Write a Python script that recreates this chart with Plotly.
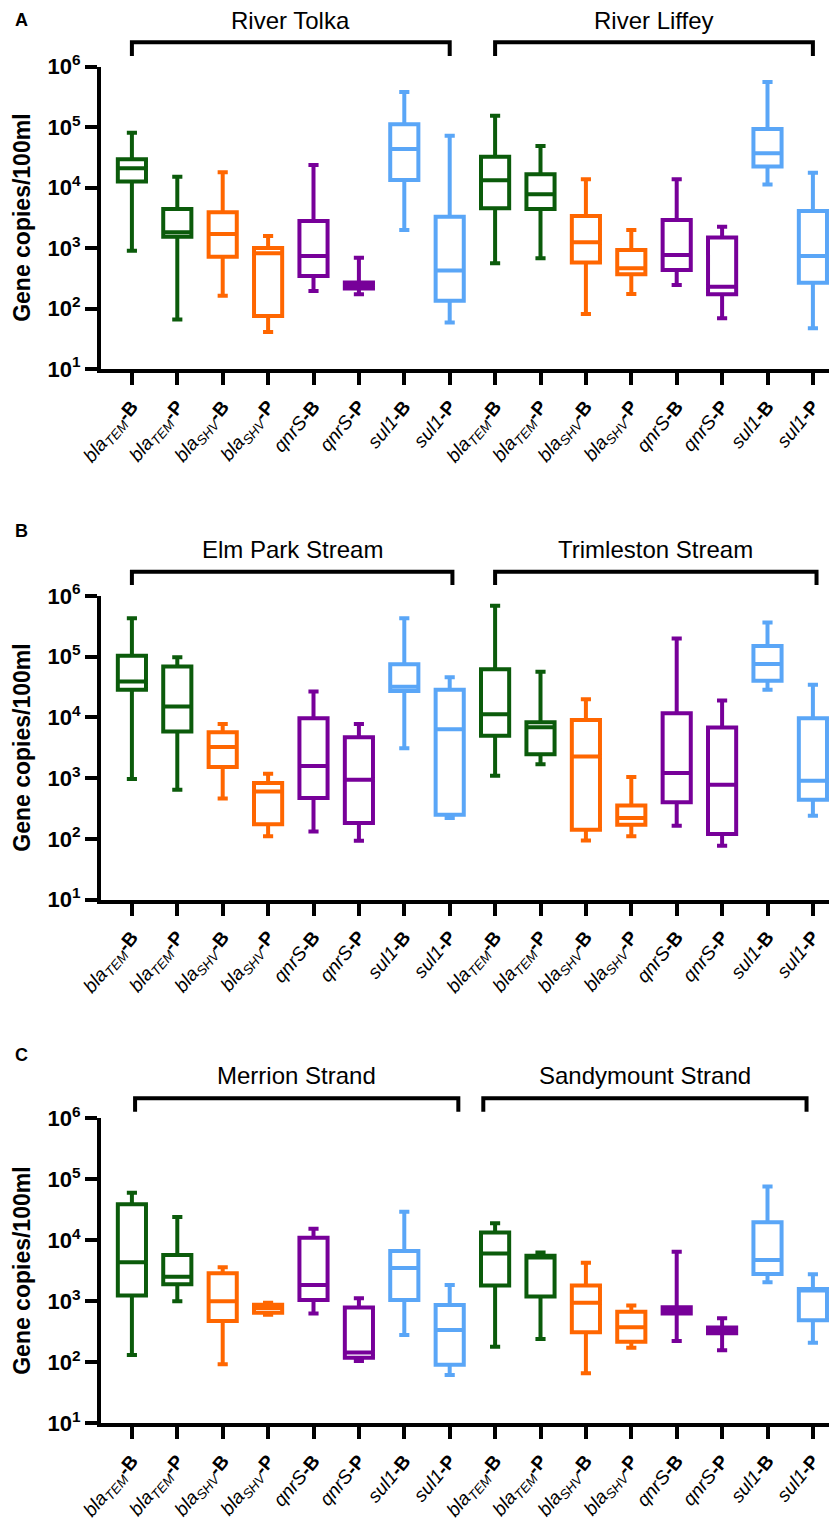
import plotly.graph_objects as go

# ---------------- data ----------------
tick_labels = [
    "<i>bla<sub>TEM</sub></i><b>-B</b>", "<i>bla<sub>TEM</sub></i><b>-P</b>",
    "<i>bla<sub>SHV</sub></i><b>-B</b>", "<i>bla<sub>SHV</sub></i><b>-P</b>",
    "<i>qnrS</i><b>-B</b>", "<i>qnrS</i><b>-P</b>",
    "<i>sul1</i><b>-B</b>", "<i>sul1</i><b>-P</b>",
] * 2
positions = list(range(16))

panel_letters = ["A", "B", "C"]
site_names = [("River Tolka", "River Liffey"),
              ("Elm Park Stream", "Trimleston Stream"),
              ("Merrion Strand", "Sandymount Strand")]

A_min = [900, 66, 162, 41, 195, 172, 2000, 59, 562, 680, 81, 174, 245, 69, 11300, 47]
A_q1 = [12600, 1540, 720, 75, 345, 215, 13400, 134, 4550, 4450, 580, 370, 435, 172, 22300, 268]
A_med = [21000, 1830, 1710, 820, 740, 245, 43600, 425, 13200, 7800, 1250, 465, 770, 230, 37000, 740]
A_q3 = [29500, 4450, 3900, 1000, 2800, 270, 112000, 3300, 32500, 16600, 3400, 930, 2900, 1500, 93000, 4100]
A_max = [81000, 15200, 17900, 1580, 23600, 690, 380000, 72000, 155000, 49000, 13700, 2000, 13700, 2250, 560000, 17600]

B_min = [970, 640, 460, 110, 132, 93, 3100, 220, 1090, 1690, 94, 110, 164, 77, 28500, 240]
B_q1 = [28500, 5850, 1520, 174, 470, 182, 27300, 250, 4980, 2470, 141, 170, 400, 120, 40000, 440]
B_med = [39000, 15100, 3250, 600, 1590, 940, 32000, 6400, 11300, 6900, 2270, 220, 1210, 780, 76000, 905]
B_q3 = [104000, 69000, 5700, 830, 9700, 4700, 75000, 28500, 62000, 8300, 9100, 353, 11700, 6800, 150000, 9700]
B_max = [430000, 98000, 7800, 1180, 26700, 7800, 430000, 46000, 690000, 56500, 20000, 1040, 200000, 19000, 365000, 34500]

C_min = [132, 1000, 93, 600, 630, 105, 280, 62, 180, 240, 66, 174, 224, 158, 2050, 210]
C_q1 = [1240, 1900, 475, 650, 1050, 119, 1050, 91, 1810, 1200, 310, 218, 630, 300, 2800, 490]
C_med = [4350, 2530, 1000, 780, 1850, 145, 3500, 340, 6100, 5200, 950, 375, 720, 340, 4750, 1500]
C_q3 = [39000, 5750, 2870, 880, 11000, 790, 6700, 870, 13400, 5600, 1810, 675, 800, 373, 19800, 1590]
C_max = [60000, 24000, 3600, 950, 15400, 1120, 29500, 1850, 19000, 6300, 4300, 850, 6500, 525, 76000, 2780]

panels = [(A_min, A_q1, A_med, A_q3, A_max),
          (B_min, B_q1, B_med, B_q3, B_max),
          (C_min, C_q1, C_med, C_q3, C_max)]

gene_colors = ["#0B5B0B", "#FF6600", "#770099", "#5AA6F7"]

# ---------------- layout geometry (window pixels) ----------------
OFF = 8                      # page body margin
W, H = 837 - OFF, 1520 - OFF
FONT = "Arial, Liberation Sans, sans-serif"


def px(x):
    return (x - OFF) / W


def py(y):
    return 1 - (y - OFF) / H


plot_top = [66.7, 596.0, 1118.3]
plot_bot = [369.0, 899.5, 1423.3]
letter_y = [20, 531, 1055]
title_y = [20.5, 549.3, 1075]
bracket_top = [42.3, 571.7, 1098.3]
bracket_end = [56.0, 585.0, 1111.7]
bracket_x = [((0, 7), (8, 15)), ((0, 7.06), (8.0, 15.08)), ((0.07, 7.19), (7.74, 14.86))]

x_left_px = 101
first_px, step_px = 131.9, 45.4
x_range = [-(first_px - x_left_px) / step_px, (837 - first_px) / step_px]

fig = go.Figure()
layout = dict(width=W, height=H, margin=dict(l=0, r=0, t=0, b=0),
              plot_bgcolor="white", paper_bgcolor="white",
              showlegend=False, boxmode="overlay",
              font=dict(family=FONT, color="black"))
annotations = []
shapes = []

for k, (mn, q1, md, q3, mx) in enumerate(panels):
    sx = "" if k == 0 else str(k + 1)
    xa, ya = "x" + sx, "y" + sx
    for g in range(4):
        idx = [2 * g, 2 * g + 1, 2 * g + 8, 2 * g + 9]
        fig.add_trace(go.Box(
            x=[positions[i] for i in idx],
            q1=[q1[i] for i in idx], median=[md[i] for i in idx],
            q3=[q3[i] for i in idx],
            lowerfence=[mn[i] for i in idx], upperfence=[mx[i] for i in idx],
            width=0.62, whiskerwidth=0.36,
            line=dict(color=gene_colors[g], width=4),
            fillcolor="white", boxpoints=False, showlegend=False,
            xaxis=xa, yaxis=ya))

    layout["xaxis" + sx] = dict(
        domain=[px(x_left_px), 1.0], range=x_range, anchor=ya,
        tickmode="array", tickvals=positions, ticktext=tick_labels,
        tickangle=-50, tickfont=dict(size=19, family=FONT, color="black"),
        ticklabelstandoff=3,
        ticks="outside", ticklen=12, tickwidth=4, tickcolor="black",
        showline=True, linewidth=4, linecolor="black",
        showgrid=False, zeroline=False, automargin=False)
    layout["yaxis" + sx] = dict(
        domain=[py(plot_bot[k]), py(plot_top[k])], type="log", range=[1, 6],
        anchor=xa, tickmode="array",
        tickvals=[10 ** e for e in range(1, 7)],
        ticktext=["<b>10<sup>%d</sup></b>" % e for e in range(1, 7)],
        tickfont=dict(size=22, family=FONT, color="black"),
        ticks="outside", ticklen=12, tickwidth=4, tickcolor="black",
        showline=True, linewidth=4, linecolor="black",
        showgrid=False, zeroline=False, automargin=False)

    annotations.append(dict(text="<b>%s</b>" % panel_letters[k], x=px(21.7),
                            y=py(letter_y[k]), xref="paper", yref="paper",
                            showarrow=False, xanchor="center", yanchor="middle",
                            font=dict(size=18, family=FONT, color="black")))
    annotations.append(dict(text="<b>Gene copies/100ml</b>", x=px(22),
                            y=py((plot_top[k] + plot_bot[k]) / 2),
                            xref="paper", yref="paper", textangle=-90,
                            showarrow=False, xanchor="center", yanchor="middle",
                            font=dict(size=23, family=FONT, color="black")))
    for s in range(2):
        x0, x1 = bracket_x[k][s]
        yt, ye = py(bracket_top[k]), py(bracket_end[k])
        shapes.append(dict(type="path", xref=xa, yref="paper",
                           path="M %f,%f L %f,%f L %f,%f L %f,%f" % (x0, ye, x0, yt, x1, yt, x1, ye),
                           line=dict(color="black", width=4)))
        annotations.append(dict(text=site_names[k][s], x=(x0 + x1) / 2, y=py(title_y[k]),
                                xref=xa, yref="paper", showarrow=False,
                                xanchor="center", yanchor="middle",
                                font=dict(size=24, family=FONT, color="black")))

layout["annotations"] = annotations
layout["shapes"] = shapes
fig.update_layout(**layout)
fig.write_html("out.html")
